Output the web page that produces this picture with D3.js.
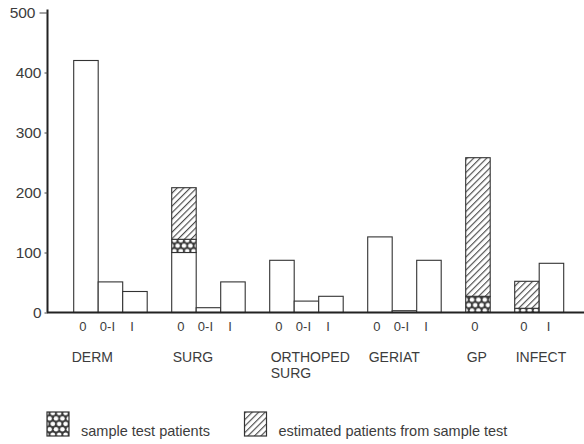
<!DOCTYPE html>
<html><head><meta charset="utf-8">
<script src="https://cdn.jsdelivr.net/npm/d3@7"></script>
<style>
html,body{margin:0;padding:0;background:#fff;}
text{font-family:"Liberation Sans",Arial,sans-serif;fill:#3c3c3c;}
</style></head>
<body><svg id="c" width="584" height="444"></svg>
<script>
// ---- data ----
const groups      = ["DERM", "SURG", "ORTHOPED|SURG", "GERIAT", "GP", "INFECT"];
const barGroup    = ["DERM","DERM","DERM","SURG","SURG","SURG","ORTHOPED|SURG","ORTHOPED|SURG","ORTHOPED|SURG","GERIAT","GERIAT","GERIAT","GP","INFECT","INFECT"];
const barLabel    = ["0","0-I","I","0","0-I","I","0","0-I","I","0","0-I","I","0","0","I"];
const plainVals   = [420, 51, 35, 100, 8, 51, 87, 19, 27, 126, 3, 87, 0, 0, 82];
const sampleVals  = [0, 0, 0, 22, 0, 0, 0, 0, 0, 0, 0, 0, 27, 7, 0];
const estVals     = [0, 0, 0, 86, 0, 0, 0, 0, 0, 0, 0, 0, 231, 45, 0];
const yTicks      = [0, 100, 200, 300, 400, 500];
const legendLabels = ["sample test patients", "estimated patients from sample test"];

const svg = d3.select("#c");
const ink = "#333";

// patterns
const defs = svg.append("defs");
const hp = defs.append("pattern").attr("id","hatch").attr("patternUnits","userSpaceOnUse")
  .attr("width",4.6).attr("height",10).attr("patternTransform","rotate(45)");
hp.append("rect").attr("width",4.6).attr("height",10).attr("fill","#fff");
hp.append("line").attr("x1",0.6).attr("x2",0.6).attr("y1",0).attr("y2",10).attr("stroke","#444").attr("stroke-width",1.1);
const pw = 6.4, ph = 10.8;
const cp = defs.append("pattern").attr("id","cross").attr("patternUnits","userSpaceOnUse")
  .attr("width",pw).attr("height",ph);
cp.append("rect").attr("width",pw).attr("height",ph).attr("fill","#3a3a3a");
[[1.6,2.7],[4.8,8.1],[1.6+pw,2.7],[4.8-pw,8.1],[1.6,2.7+ph],[4.8,8.1-ph]].forEach(([cx,cy])=>
  cp.append("circle").attr("cx",cx).attr("cy",cy).attr("r",2.3).attr("fill","#fff"));

// slots (bars + a gap slot between groups)
const bars = barLabel.map((l,i)=>({i, key:"b"+i, group:barGroup[i], label:l,
  plain:plainVals[i], sample:sampleVals[i], est:estVals[i]}));
const slots = [];
groups.forEach((g,gi)=>{
  bars.filter(b=>b.group===g).forEach(b=>slots.push(b.key));
  if (gi < groups.length-1) slots.push("gap"+gi);
});

const x = d3.scaleBand().domain(slots).range([73.7, 563.7]).padding(0);
const y = d3.scaleLinear().domain([0,500]).range([312.5, 12.5]);

// bars
const bg = svg.append("g");
bars.forEach(b=>{
  const x0 = x(b.key), w = x.bandwidth();
  const segs = [
    {v0:0, v1:b.plain, fill:"#fff"},
    {v0:b.plain, v1:b.plain+b.sample, fill:"url(#cross)"},
    {v0:b.plain+b.sample, v1:b.plain+b.sample+b.est, fill:"url(#hatch)"}
  ].filter(s=>s.v1>s.v0);
  segs.forEach(s=>{
    bg.append("rect").attr("x",x0).attr("width",w)
      .attr("y",y(s.v1)).attr("height",y(s.v0)-y(s.v1))
      .attr("fill",s.fill).attr("stroke",ink).attr("stroke-width",1.1);
  });
});

// y axis
const ya = svg.append("g").attr("transform","translate(47.5,0)")
  .call(d3.axisLeft(y).tickValues(yTicks).tickSize(3).tickPadding(3).tickSizeOuter(0));
ya.select(".domain").attr("stroke","#222").attr("stroke-width",2)
  .attr("d", `M0,${y(0)}V${y(505)}`);
ya.selectAll(".tick line").attr("stroke","#444");
ya.selectAll(".tick text").attr("font-size",15.5).attr("fill","#3c3c3c")
  .attr("font-family","Liberation Sans, Arial, sans-serif");
ya.selectAll(".tick").filter(d=>d===500).select("line").attr("x2",-8);
ya.selectAll(".tick").filter(d=>d===500).select("text").attr("x",-12);

// x axis line
svg.append("line").attr("x1",47).attr("x2",584).attr("y1",y(0)).attr("y2",y(0))
  .attr("stroke","#222").attr("stroke-width",2);

// bar sub-labels
svg.append("g").selectAll("text").data(bars).join("text")
  .attr("x",b=>x(b.key)+x.bandwidth()/2-3).attr("y",331)
  .attr("text-anchor","middle").attr("font-size",13).text(b=>b.label);

// group labels
groups.forEach((g,gi)=>{
  const first = bars.find(b=>b.group===g);
  const t = svg.append("text").attr("x",x(first.key)+(gi===0?-2:1)).attr("y",362)
    .attr("font-size",14);
  g.split("|").forEach((line,li)=>{
    t.append("tspan").attr("x",x(first.key)+(gi===0?-2:1)).attr("dy",li?15.5:0).text(line);
  });
});

// legend
const lg = [{fill:"url(#cross)", x:47, label:legendLabels[0]},
            {fill:"url(#hatch)", x:244.5, label:legendLabels[1]}];
lg.forEach(l=>{
  svg.append("rect").attr("x",l.x).attr("y",412).attr("width",22).attr("height",24)
    .attr("fill",l.fill).attr("stroke",ink).attr("stroke-width",1.2);
  svg.append("text").attr("x",l.x+34).attr("y",436).attr("font-size",14.5).text(l.label);
});
</script></body></html>
